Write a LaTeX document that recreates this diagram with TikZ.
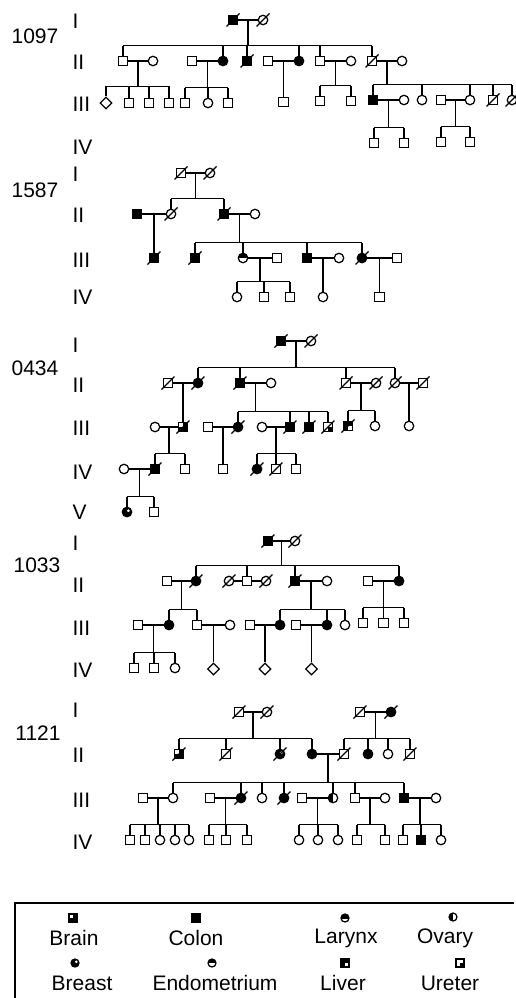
\documentclass[tikz,border=0pt]{standalone}
\usepackage{fontspec}
\setmainfont{Liberation Sans}
\usetikzlibrary{shapes.geometric,calc}

\begin{document}
\begin{tikzpicture}[
  x=1pt,
  y=-1pt,
  line width=1.25pt,
  every node/.style={font=\fontsize{21}{24}\selectfont},
  sq/.style={draw, rectangle, minimum size=9.5pt, inner sep=0pt, fill=white},
  ci/.style={draw, circle, minimum size=9.5pt, inner sep=0pt, fill=white},
  di/.style={draw, diamond, minimum size=12pt, inner sep=0pt, fill=white},
  af/.style={fill=black},
  endo/.style={path picture={\fill[black] (path picture bounding box.west) rectangle (path picture bounding box.north east);}},
  ovary/.style={path picture={\fill[black] (path picture bounding box.south west) rectangle (path picture bounding box.north);}},
  larynx/.style={path picture={\fill[black] (path picture bounding box.south west) rectangle (path picture bounding box.north east);
    \fill[white] ([yshift=-0.6pt]path picture bounding box.west) rectangle ([yshift=-2.6pt]path picture bounding box.east);}},
  breast/.style={path picture={\fill[black] (path picture bounding box.south west) rectangle (path picture bounding box.north east);
    \fill[white] ([shift={(1.3pt,1.3pt)}]path picture bounding box.center) circle (1.5pt);}},
  brain/.style={path picture={\fill[black] (path picture bounding box.south west) rectangle (path picture bounding box.north east);
    \fill[white] (path picture bounding box.north west) rectangle (path picture bounding box.center);}},
  liver/.style={path picture={\fill[black] (path picture bounding box.south west) rectangle (path picture bounding box.north east);
    \fill[white] (path picture bounding box.center) rectangle (path picture bounding box.south east);}},
  ureter/.style={path picture={\fill[black] (path picture bounding box.center) rectangle (path picture bounding box.south east);}},
  legsym/.style={minimum size=8pt},
  idlabel/.style={inner sep=0pt},
  genlabel/.style={anchor=west, inner sep=0pt}
]
  \useasboundingbox (0,0) rectangle (515,998);
  \def\couple#1#2#3{\draw (#1) -- (#2); \coordinate (#3) at ($(#1)!0.5!(#2)$);}
  \def\sibship#1#2#3#4{%
    \coordinate (sl) at ([yshift=10pt]#2.north);
    \draw (#1) -- (#1 |- sl);
    \draw (#2 |- sl) -- (#3 |- sl);
    \foreach \k in {#4} {\draw (\k) -- (\k |- sl);}}
  \def\deceased#1{\foreach \n in {#1} {\draw ([shift={(-6.5pt,-6.5pt)}]\n.center) -- ([shift={(6.5pt,6.5pt)}]\n.center);}}

  % 1097
  \node[idlabel] (idA) at (35,36) {1097};
  \foreach \g/\y in {I/21,II/62,III/104,IV/147}
    \node[genlabel] (gA\g) at (72,\y) {\g};
  \node[sq,af] (A1) at (233,20) {};
  \node[ci] (A2) at (263,20) {};
  \node[sq] (A3) at (123,61) {};
  \node[ci] (A4) at (153,61) {};
  \node[sq] (A5) at (192,61) {};
  \node[ci,af] (A6) at (223,61) {};
  \node[sq,af] (A7) at (247,61) {};
  \node[sq] (A8) at (268,61) {};
  \node[ci,af] (A9) at (299,61) {};
  \node[sq] (A10) at (320,61) {};
  \node[ci] (A11) at (351,61) {};
  \node[sq] (A12) at (372,61) {};
  \node[ci] (A13) at (402,61) {};
  \node[di] (A14) at (106,103) {};
  \node[sq] (A15) at (129,103) {};
  \node[sq] (A16) at (149,103) {};
  \node[sq] (A17) at (169,103) {};
  \node[sq] (A18) at (185,103) {};
  \node[ci] (A19) at (208,103) {};
  \node[sq] (A20) at (228,103) {};
  \node[sq] (A21) at (283.5,102) {};
  \node[sq] (A22) at (320,101) {};
  \node[sq] (A23) at (351,101) {};
  \node[sq,af] (A24) at (373,100) {};
  \node[ci] (A25) at (404,100) {};
  \node[ci] (A26) at (422,100) {};
  \node[sq] (A27) at (441,100) {};
  \node[ci] (A28) at (470,100) {};
  \node[sq] (A29) at (493,100) {};
  \node[ci] (A30) at (512,100) {};
  \node[sq] (A31) at (374,143) {};
  \node[sq] (A32) at (404,143) {};
  \node[sq] (A33) at (441,142) {};
  \node[sq] (A34) at (470,142) {};
  \couple{A1}{A2}{a1} \sibship{a1}{A3}{A12}{A3,A6,A7,A9,A10,A12}
  \couple{A3}{A4}{a2} \sibship{a2}{A14}{A17}{A14,A15,A16,A17}
  \couple{A5}{A6}{a3} \sibship{a3}{A18}{A20}{A18,A19,A20}
  \couple{A8}{A9}{a4} \draw (a4) -- (A21);
  \couple{A10}{A11}{a5} \sibship{a5}{A22}{A23}{A22,A23}
  \couple{A12}{A13}{a6} \sibship{a6}{A24}{A30}{A24,A26,A28,A29,A30}
  \couple{A24}{A25}{a7} \sibship{a7}{A31}{A32}{A31,A32}
  \couple{A27}{A28}{a8} \sibship{a8}{A33}{A34}{A33,A34}
  \deceased{A1,A2,A7,A12,A29,A30}

  % 1587
  \node[idlabel] (idB) at (35,190) {1587};
  \foreach \g/\y in {I/174,II/215,III/260,IV/297}
    \node[genlabel] (gB\g) at (72,\y) {\g};
  \node[sq] (B1) at (181,173) {};
  \node[ci] (B2) at (210,173) {};
  \node[sq,af] (B3) at (137,214) {};
  \node[ci] (B4) at (171,214) {};
  \node[sq,af] (B5) at (224,214) {};
  \node[ci] (B6) at (255,214) {};
  \node[sq,af] (B7) at (154,258) {};
  \node[sq,af] (B8) at (195,258) {};
  \node[ci,endo] (B9) at (243,258) {};
  \node[sq] (B10) at (277,258) {};
  \node[sq,af] (B11) at (307,258) {};
  \node[ci] (B12) at (339,258) {};
  \node[ci,af] (B13) at (362,258) {};
  \node[sq] (B14) at (397,258) {};
  \node[ci] (B15) at (237,297) {};
  \node[sq] (B16) at (264,297) {};
  \node[sq] (B17) at (290,297) {};
  \node[ci] (B18) at (323,297) {};
  \node[sq] (B19) at (379.5,297) {};
  \couple{B1}{B2}{b1} \sibship{b1}{B4}{B5}{B4,B5}
  \couple{B3}{B4}{b2} \draw (b2) -- (B7);
  \couple{B5}{B6}{b3} \sibship{b3}{B8}{B13}{B8,B9,B11,B13}
  \couple{B9}{B10}{b4} \sibship{b4}{B15}{B17}{B15,B16,B17}
  \couple{B11}{B12}{b5} \draw (b5) -- (B18);
  \couple{B13}{B14}{b6} \draw (b6) -- (B19);
  \deceased{B1,B2,B4,B5,B7,B8,B13}

  % 0434
  \node[idlabel] (idC) at (35,368) {0434};
  \foreach \g/\y in {I/345,II/385,III/428,IV/472,V/512}
    \node[genlabel] (gC\g) at (72,\y) {\g};
  \node[sq,af] (C1) at (281,341) {};
  \node[ci] (C2) at (311,341) {};
  \node[sq] (C3) at (168,383) {};
  \node[ci,af] (C4) at (198,383) {};
  \node[sq,af] (C5) at (240,383) {};
  \node[ci] (C6) at (271,383) {};
  \node[sq] (C7) at (346,383) {};
  \node[ci] (C8) at (376,383) {};
  \node[ci] (C9) at (395,383) {};
  \node[sq] (C10) at (423,383) {};
  \node[ci] (C11) at (155,427) {};
  \node[sq,brain] (C12) at (183,427) {};
  \node[sq] (C13) at (208,427) {};
  \node[ci,af] (C14) at (238,427) {};
  \node[ci] (C15) at (262,427) {};
  \node[sq,af] (C16) at (290,427) {};
  \node[sq,af] (C17) at (309,427) {};
  \node[sq,ureter] (C18) at (328,427) {};
  \node[sq,liver] (C19) at (348,426) {};
  \node[ci] (C20) at (375,426) {};
  \node[ci] (C21) at (409,426) {};
  \node[ci] (C22) at (124,469) {};
  \node[sq,af] (C23) at (155,469) {};
  \node[sq] (C24) at (185,469) {};
  \node[sq] (C25) at (223,469) {};
  \node[ci,af] (C26) at (257,469) {};
  \node[sq] (C27) at (276,469) {};
  \node[sq] (C28) at (296,469) {};
  \node[ci,breast] (C29) at (127,512) {};
  \node[sq] (C30) at (154,512) {};
  \couple{C1}{C2}{c1} \sibship{c1}{C4}{C9}{C4,C5,C7,C9}
  \couple{C3}{C4}{c2} \draw (c2) -- (C12);
  \couple{C5}{C6}{c3} \sibship{c3}{C14}{C18}{C14,C16,C17,C18}
  \couple{C7}{C8}{c4} \sibship{c4}{C19}{C20}{C19,C20}
  \couple{C9}{C10}{c5} \draw (c5) -- (C21);
  \couple{C11}{C12}{c6} \sibship{c6}{C23}{C24}{C23,C24}
  \couple{C13}{C14}{c7} \draw (c7) -- (C25);
  \couple{C15}{C16}{c8} \sibship{c8}{C26}{C28}{C26,C27,C28}
  \couple{C22}{C23}{c9} \sibship{c9}{C29}{C30}{C29,C30}
  \deceased{C1,C2,C3,C4,C5,C7,C8,C9,C10,C12,C14,C16,C17,C18,C19,C23,C26,C27}

  % 1033
  \node[idlabel] (idD) at (37,565) {1033};
  \foreach \g/\y in {I/543,II/585,III/628,IV/670}
    \node[genlabel] (gD\g) at (72,\y) {\g};
  \node[sq,af] (D1) at (268,541) {};
  \node[ci] (D2) at (295,541) {};
  \node[sq] (D3) at (167,581) {};
  \node[ci,af] (D4) at (196,581) {};
  \node[ci] (D5) at (229,581) {};
  \node[sq] (D6) at (247,581) {};
  \node[ci] (D7) at (266,581) {};
  \node[sq,af] (D8) at (295,581) {};
  \node[ci] (D9) at (327,581) {};
  \node[sq] (D10) at (368,581) {};
  \node[ci,af] (D11) at (399,581) {};
  \node[sq] (D12) at (138,625) {};
  \node[ci,af] (D13) at (169,625) {};
  \node[sq] (D14) at (197,625) {};
  \node[ci] (D15) at (230,625) {};
  \node[sq] (D16) at (250,625) {};
  \node[ci,af] (D17) at (280,625) {};
  \node[sq] (D18) at (296,625) {};
  \node[ci,af] (D19) at (327,625) {};
  \node[ci] (D20) at (345,625) {};
  \node[sq] (D21) at (363,623) {};
  \node[sq] (D22) at (383.5,623) {};
  \node[sq] (D23) at (404,623) {};
  \node[sq] (D24) at (134,668) {};
  \node[sq] (D25) at (154,668) {};
  \node[ci] (D26) at (175,668) {};
  \node[di] (D27) at (213.5,669) {};
  \node[di] (D28) at (265,669) {};
  \node[di] (D29) at (311.5,669) {};
  \couple{D1}{D2}{d1} \sibship{d1}{D4}{D11}{D4,D6,D8,D11}
  \couple{D3}{D4}{d2} \sibship{d2}{D13}{D14}{D13,D14}
  \draw (D5) -- (D6);
  \draw (D6) -- (D7);
  \couple{D8}{D9}{d3} \sibship{d3}{D17}{D20}{D17,D19,D20}
  \couple{D10}{D11}{d4} \sibship{d4}{D21}{D23}{D21,D22,D23}
  \couple{D12}{D13}{d5} \sibship{d5}{D24}{D26}{D24,D25,D26}
  \couple{D14}{D15}{d6} \draw (d6) -- (D27);
  \couple{D16}{D17}{d7} \draw (d7) -- (D28);
  \couple{D18}{D19}{d8} \draw (d8) -- (D29);
  \deceased{D1,D2,D4,D5,D7,D8}

  % 1121
  \node[idlabel] (idE) at (38,733) {1121};
  \foreach \g/\y in {I/710,II/755,III/800,IV/842}
    \node[genlabel] (gE\g) at (72,\y) {\g};
  \node[sq] (E1) at (239,712) {};
  \node[ci] (E2) at (267,712) {};
  \node[sq] (E3) at (360,712) {};
  \node[ci,af] (E4) at (391,712) {};
  \node[sq,brain] (E5) at (179,754) {};
  \node[sq] (E6) at (226,754) {};
  \node[ci,breast] (E7) at (280,754) {};
  \node[ci,af] (E8) at (312,754) {};
  \node[sq] (E9) at (344,754) {};
  \node[ci,af] (E10) at (368,754) {};
  \node[ci] (E11) at (388,754) {};
  \node[sq] (E12) at (410,754) {};
  \node[sq] (E13) at (143,798) {};
  \node[ci] (E14) at (173,798) {};
  \node[sq] (E15) at (210,798) {};
  \node[ci,af] (E16) at (241,798) {};
  \node[ci] (E17) at (262,798) {};
  \node[ci,af] (E18) at (284,798) {};
  \node[sq] (E19) at (302,798) {};
  \node[ci,ovary] (E20) at (333,798) {};
  \node[sq] (E21) at (355,798) {};
  \node[ci] (E22) at (385,798) {};
  \node[sq,af] (E23) at (404,798) {};
  \node[ci] (E24) at (436,798) {};
  \node[sq] (E25) at (130,840) {};
  \node[sq] (E26) at (145,840) {};
  \node[ci] (E27) at (160,840) {};
  \node[ci] (E28) at (175,840) {};
  \node[ci] (E29) at (189,840) {};
  \node[sq] (E30) at (209,840) {};
  \node[sq] (E31) at (226,840) {};
  \node[sq] (E32) at (247,840) {};
  \node[ci] (E33) at (299,840) {};
  \node[ci] (E34) at (318,840) {};
  \node[ci] (E35) at (338,840) {};
  \node[sq] (E36) at (357,840) {};
  \node[sq] (E37) at (385,840) {};
  \node[sq] (E38) at (403,840) {};
  \node[sq,af] (E39) at (421,840) {};
  \node[ci] (E40) at (441,840) {};
  \couple{E1}{E2}{e1} \sibship{e1}{E5}{E8}{E5,E6,E7,E8}
  \couple{E3}{E4}{e2} \sibship{e2}{E9}{E12}{E9,E10,E11,E12}
  \couple{E8}{E9}{e3} \sibship{e3}{E14}{E23}{E14,E16,E17,E18,E20,E21,E23}
  \couple{E13}{E14}{e4} \sibship{e4}{E25}{E29}{E25,E26,E27,E28,E29}
  \couple{E15}{E16}{e5} \sibship{e5}{E30}{E32}{E30,E31,E32}
  \couple{E19}{E20}{e6} \sibship{e6}{E33}{E35}{E33,E34,E35}
  \couple{E21}{E22}{e7} \sibship{e7}{E36}{E37}{E36,E37}
  \couple{E23}{E24}{e8} \sibship{e8}{E38}{E40}{E38,E39,E40}
  \deceased{E1,E2,E3,E4,E5,E6,E7,E9,E12,E16,E18}

  % key
  \draw (514,903) -- (15,903) -- (15,998);
  \node[sq,brain,legsym] (kBrain) at (73,918) {};
  \node[sq,af,legsym] (kColon) at (196,918) {};
  \node[ci,larynx,legsym] (kLarynx) at (345,918) {};
  \node[ci,ovary,legsym] (kOvary) at (453,917) {};
  \node[ci,breast,legsym] (kBreast) at (75,963) {};
  \node[ci,endo,legsym] (kEndo) at (212,963) {};
  \node[sq,liver,legsym] (kLiver) at (345,963) {};
  \node[sq,ureter,legsym] (kUreter) at (460,963) {};
  \node[idlabel] (tBrain) at (74,938) {Brain};
  \node[idlabel] (tColon) at (196,938) {Colon};
  \node[idlabel] (tLarynx) at (346,938) {Larynx};
  \node[idlabel] (tOvary) at (445,938) {Ovary};
  \node[idlabel] (tBreast) at (82,983) {Breast};
  \node[idlabel] (tEndo) at (215,983) {Endometrium};
  \node[idlabel] (tLiver) at (343,983) {Liver};
  \node[idlabel] (tUreter) at (450,983) {Ureter};
\end{tikzpicture}
\end{document}
